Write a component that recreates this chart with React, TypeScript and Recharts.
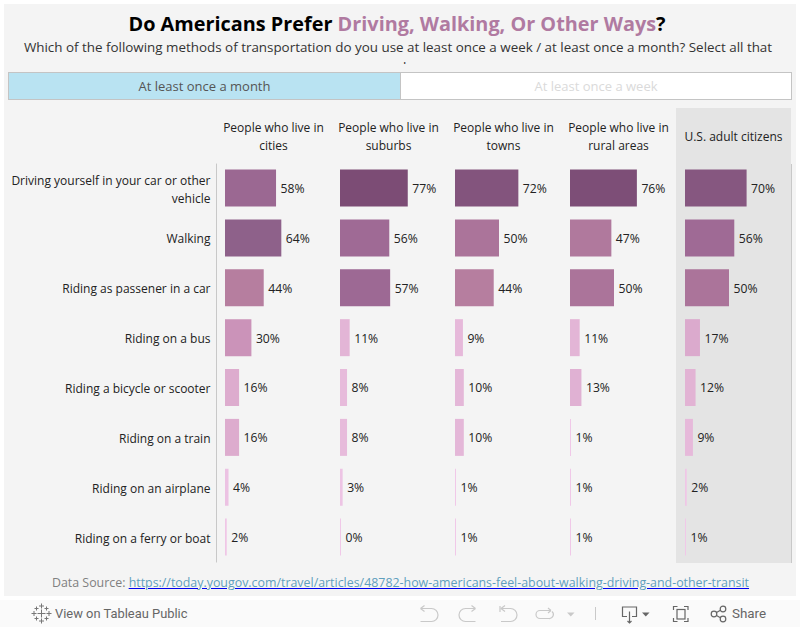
import { BarChart, Bar, Cell, LabelList, XAxis, YAxis } from "recharts";

const categories = [
  "Driving yourself in your car or other vehicle",
  "Walking",
  "Riding as passener in a car",
  "Riding on a bus",
  "Riding a bicycle or scooter",
  "Riding on a train",
  "Riding on an airplane",
  "Riding on a ferry or boat",
];

const cities = [58, 64, 44, 30, 16, 16, 4, 2];
const suburbs = [77, 56, 57, 11, 8, 8, 3, 0];
const towns = [72, 50, 44, 9, 10, 10, 1, 1];
const rural = [76, 47, 50, 11, 13, 1, 1, 1];
const adults = [70, 56, 50, 17, 12, 9, 2, 1];

const columns = [
  { title: ["People who live in", "cities"], values: cities },
  { title: ["People who live in", "suburbs"], values: suburbs },
  { title: ["People who live in", "towns"], values: towns },
  { title: ["People who live in", "rural areas"], values: rural },
  { title: ["U.S. adult citizens"], values: adults },
];

const colorStops: [number, number[]][] = [
  [1, [240, 200, 232]],
  [11, [227, 181, 214]],
  [30, [203, 147, 185]],
  [44, [182, 126, 159]],
  [56, [159, 106, 149]],
  [64, [142, 97, 138]],
  [77, [124, 76, 117]],
];

function colorFor(v: number) {
  if (v <= colorStops[0][0]) return `rgb(${colorStops[0][1].join(",")})`;
  for (let i = 1; i < colorStops.length; i++) {
    const [hi, hc] = colorStops[i];
    const [lo, lc] = colorStops[i - 1];
    if (v <= hi) {
      const t = (v - lo) / (hi - lo);
      return `rgb(${lc.map((c, k) => Math.round(c + (hc[k] - c) * t)).join(",")})`;
    }
  }
  return `rgb(${colorStops[colorStops.length - 1][1].join(",")})`;
}

const FONT = '"Open Sans", "Noto Sans", sans-serif';
const GREY = "#c8c8c8";

// row labels wrap at about 205px, same as the tableau header
function RowLabel({ x, y, payload }: any) {
  const parts =
    payload.value.length > 40
      ? ["Driving yourself in your car or other", "vehicle"]
      : [payload.value];
  const top = y - (parts.length - 1) * 9 + 5;
  return (
    <text x={x} textAnchor="end" fontSize={12} fill="#222" fontFamily={FONT}>
      {parts.map((p: string, i: number) => (
        <tspan key={i} x={x} y={top + i * 18}>
          {p}
        </tspan>
      ))}
    </text>
  );
}

function Panel({ values, first }: { values: number[]; first: boolean }) {
  const data = categories.map((name, i) => ({ name, value: values[i] }));
  return (
    <BarChart
      width={first ? 331 : 115}
      height={400}
      data={data}
      layout="vertical"
      margin={{ top: 0.57, right: 0, bottom: 0.53, left: 0.5 }}
      barCategoryGap={0}
    >
      <XAxis type="number" hide domain={[0, 100]} padding={{ left: 8.5, right: 18 }} />
      <YAxis
        type="category"
        dataKey="name"
        width={first ? 216 : 0}
        interval={0}
        axisLine={{ stroke: GREY }}
        tickLine={false}
        tickMargin={0}
        tick={first ? <RowLabel /> : false}
      />
      <Bar dataKey="value" barSize={37} minPointSize={1} isAnimationActive={false}>
        {data.map((d, i) => (
          <Cell key={i} fill={colorFor(d.value)} />
        ))}
        <LabelList
          dataKey="value"
          position="right"
          offset={4.5}
          dy={0.6}
          formatter={(v: any) => `${v}%`}
          style={{ fontSize: 12.2, fill: "#222", fontFamily: FONT }}
        />
      </Bar>
    </BarChart>
  );
}

const logoCrosses = [
  [41.5, 13.5, 4],
  [41.5, 6, 2.5],
  [41.5, 21, 2.5],
  [34, 13.5, 2.5],
  [49, 13.5, 2.5],
  [36.5, 8.5, 2],
  [46.5, 8.5, 2],
  [36.5, 18.5, 2],
  [46.5, 18.5, 2],
];

function Toolbar() {
  const s = { fill: "none", stroke: "#c9c9c9", strokeWidth: 1.2 };
  const d = { fill: "none", stroke: "#666", strokeWidth: 1.2 };
  return (
    <svg width={800} height={27} style={{ position: "absolute", left: 0, top: 600 }}>
      {logoCrosses.map(([cx, cy, r], i) => (
        <path key={i} d={`M${cx - r} ${cy}h${2 * r}M${cx} ${cy - r}v${2 * r}`} stroke="#777" strokeWidth={1} fill="none" />
      ))}
      <path {...s} d="M420.500 8.500h11a6.500 6.500 0 0 1 0 13h-11M420.500 8.500l4-3M420.500 8.500l4 3" />
      <path {...s} d="M475.500 8.500h-10a6.500 6.500 0 0 0 0 13h10M475.500 8.500l-4-3M475.500 8.500l-4 3" />
      <path {...s} d="M500 6v6M501 8.500h9.500a6.500 6.500 0 0 1 0 13h-9.500M501 8.500l4-3M501 8.500l4 3" />
      <path {...s} d="M551 10.500h-11a4 4 0 0 0 0 8h9a4 4 0 0 0 3-7M551 10.500l-3-2.500M551 10.500l-3 2.500" />
      <path d="M567 12.500h7.500l-3.750 4z" fill="#c9c9c9" />
      <path d="M595.500 7v13" stroke="#c9c9c9" />
      <path {...d} d="M627 16.500h-4.500v-9.500h14v9.500H632M629.500 11.500v11M627.500 21l2 2 2-2" />
      <path d="M642 12.500h7.500l-3.750 4z" fill="#666" />
      <path {...d} d="M673.500 10V6.500h4M684 6.500h4V10M688 18v3.500h-4M677.500 21.500h-4V18" />
      <rect {...d} x={677} y={9.500} width={8} height={9.500} />
      <g {...d}>
        <circle cx={714} cy={14} r={2.8} />
        <circle cx={723} cy={9} r={2.8} />
        <circle cx={723} cy={19} r={2.8} />
        <path d="M716.500 12.500l4-2.200M716.500 15.500l4 2.200" />
      </g>
    </svg>
  );
}

export default function App() {
  return (
    <div
      style={{
        position: "fixed",
        left: 0,
        top: 0,
        width: 800,
        height: 627,
        background: "#fff",
        fontFamily: FONT,
        overflow: "hidden",
      }}
    >
      <div style={{ position: "absolute", left: 4, top: 4, width: 792, height: 592, background: "#f4f4f4" }} />
      <div
        style={{
          position: "absolute",
          left: 4,
          width: 786,
          top: 10,
          textAlign: "center",
          fontSize: 19.85,
          fontWeight: 700,
          lineHeight: "28px",
          color: "#000",
        }}
      >
        Do Americans Prefer <span style={{ color: "#b07aa1" }}>Driving, Walking, Or Other Ways</span>?
      </div>
      <div
        style={{
          position: "absolute",
          left: 4,
          width: 788,
          top: 37,
          height: 27,
          overflow: "hidden",
          textAlign: "center",
          fontSize: 13.4,
          lineHeight: "20px",
          color: "#333",
          whiteSpace: "nowrap",
        }}
      >
        Which of the following methods of transportation do you use at least once a week / at least once a month? Select
        all that
        <br />
        apply.
      </div>

      <div
        style={{
          position: "absolute",
          left: 8,
          top: 72,
          width: 391,
          height: 26,
          background: "#b9e3f2",
          border: "1px solid #c4c4c4",
          textAlign: "center",
          fontSize: 13,
          lineHeight: "26px",
          color: "#555",
        }}
      >
        At least once a month
      </div>
      <div
        style={{
          position: "absolute",
          left: 400,
          top: 72,
          width: 390,
          height: 26,
          background: "#fff",
          border: "1px solid #c4c4c4",
          textAlign: "center",
          fontSize: 13,
          lineHeight: "26px",
          color: "#dadada",
        }}
      >
        At least once a week
      </div>

      <div style={{ position: "absolute", left: 676, top: 108, width: 115, height: 455, background: "#e4e4e4" }} />
      {columns.map((c, i) => (
        <div
          key={i}
          style={{
            position: "absolute",
            left: 216 + i * 115,
            top: 119,
            width: 115,
            height: 36,
            display: "flex",
            flexDirection: "column",
            justifyContent: "center",
            textAlign: "center",
            fontSize: 12,
            lineHeight: "18px",
            color: "#222",
            whiteSpace: "nowrap",
          }}
        >
          {c.title.map((t) => (
            <div key={t}>{t}</div>
          ))}
        </div>
      ))}

      {columns.map((c, i) => (
        <div key={i} style={{ position: "absolute", left: i === 0 ? 0 : 216 + i * 115, top: 163 }}>
          <Panel values={c.values} first={i === 0} />
        </div>
      ))}
      <div style={{ position: "absolute", left: 791, top: 164, width: 1, height: 399, background: GREY }} />

      <div
        style={{
          position: "absolute",
          left: 4,
          width: 793,
          top: 574,
          textAlign: "center",
          fontSize: 12.4,
          lineHeight: "18px",
          color: "#808080",
          whiteSpace: "nowrap",
        }}
      >
        Data Source:{" "}
        <span style={{ color: "#5f9fbd", textDecoration: "underline", textDecorationColor: "#0000ee" }}>
          https://today.yougov.com/travel/articles/48782-how-americans-feel-about-walking-driving-and-other-transit
        </span>
      </div>

      <div style={{ position: "absolute", left: 0, top: 600, width: 800, height: 27, background: "#fafafa" }} />
      <Toolbar />
      <div style={{ position: "absolute", left: 55, top: 605, fontSize: 12.9, lineHeight: "18px", color: "#666", fontFamily: "Roboto, sans-serif" }}>
        View on Tableau Public
      </div>
      <div style={{ position: "absolute", left: 732, top: 605, fontSize: 13.4, lineHeight: "18px", color: "#666", fontFamily: "Roboto, sans-serif" }}>
        Share
      </div>
    </div>
  );
}
